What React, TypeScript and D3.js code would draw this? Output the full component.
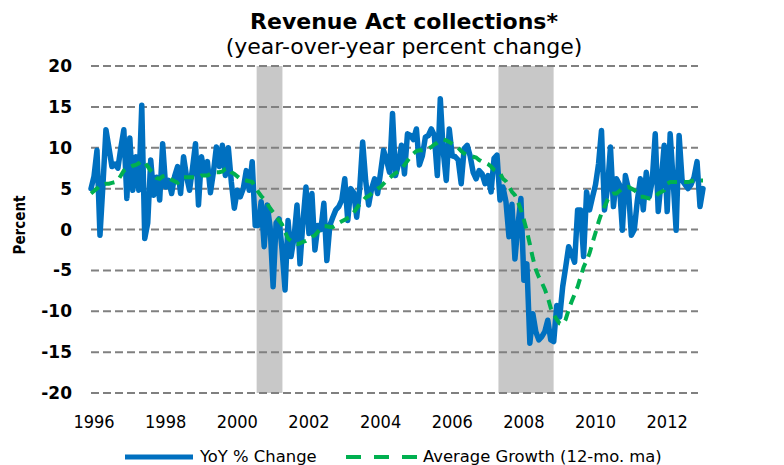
import { useEffect, useRef } from "react";
import * as d3 from "d3";

// monthly values, first month Dec 1995
const startYear = 1995 + 11 / 12;

const yoyChange = [
  5.0, 6.5, 9.7, -0.7, 5.5, 12.2, 10.0, 7.7, 8.0, 7.5, 10.0, 12.2,
  3.8, 11.2, 4.8, 8.9, 4.8, 15.2, -1.1, 0.8, 8.5, 4.2, 6.4, 3.6,
  10.5, 5.2, 6.0, 4.4, 6.5, 7.7, 4.4, 8.9, 6.5, 4.8, 7.5, 10.5,
  3.0, 8.9, 6.8, 8.3, 4.5, 7.0, 10.1, 7.7, 10.3, 6.6, 10.0, 5.8,
  2.6, 4.8, 4.0, 5.0, 7.2, 4.8, 8.3, 0.5, 0.5, 3.4, -2.1, 3.0,
  0.3, -7.0, 0.8, 1.3, -2.5, -7.4, 1.1, -3.3, -1.0, 3.0, -4.2, 1.0,
  5.2, -0.5, 4.4, -2.5, 0.5, 0.0, 3.2, -3.8, 0.5, 1.5, 2.4, 2.8,
  3.6, 6.2, 1.1, 5.0, 4.5, 1.5, 5.0, 10.7, 6.0, 3.0, 5.0, 6.2,
  4.4, 7.0, 9.7, 8.5, 7.0, 14.2, 6.6, 8.0, 10.3, 6.8, 11.7, 11.5,
  11.0, 12.3, 7.9, 9.0, 11.3, 11.5, 12.3, 11.5, 6.6, 16.0, 9.5, 6.0,
  12.3, 9.0, 8.9, 8.5, 5.6, 9.9, 10.3, 9.0, 7.0, 6.2, 7.2, 6.8,
  5.6, 6.6, 4.6, 8.7, 9.1, 3.6, 5.2, 3.4, -0.9, 3.1, -3.6, 0.5,
  3.8, -6.2, -4.2, -13.9, -10.3, -12.5, -13.5, -13.1, -12.5, -11.1, -13.5, -13.7,
  -9.3, -10.7, -7.0, -4.6, -2.1, -3.0, -4.0, 2.4, 2.4, -3.3, 4.6, 2.4,
  4.0, 5.5, 8.0, 12.1, 2.4, 5.0, 10.1, 2.8, 6.2, 5.5, -0.1, 6.6,
  5.0, -0.7, 0.0, 3.5, 6.2, 2.4, 7.0, 4.0, 6.0, 11.7, 2.2, 6.0,
  10.3, 2.2, 11.7, 6.0, -0.1, 11.5, 6.0, 5.5, 5.0, 5.5, 6.4, 8.3,
  2.8, 5.0,
];

const avgGrowth = [
  4.4, 4.7, 5.0, 5.4, 5.5, 5.6, 5.6, 5.7, 5.8, 6.0, 6.6, 7.2,
  7.5, 7.6, 7.8, 7.9, 8.1, 8.4, 8.2, 7.7, 7.2, 6.8, 6.3, 6.2,
  6.5, 6.6, 6.3, 6.1, 5.9, 5.7, 6.0, 6.4, 6.4, 6.4, 6.4, 6.4,
  6.4, 6.6, 6.6, 6.6, 6.8, 7.0, 7.0, 7.0, 7.1, 7.4, 7.5, 7.0,
  6.8, 6.5, 6.2, 6.1, 6.0, 5.9, 5.8, 5.2, 4.6, 4.1, 3.7, 3.2,
  2.6, 2.1, 1.6, 1.1, 0.6, -0.3, -1.1, -1.4, -1.7, -1.8, -1.7, -1.5,
  -1.4, -1.2, -0.9, -0.7, -0.3, 0.1, 0.4, 0.4, 0.3, 0.3, 0.5, 0.8,
  1.0, 1.2, 1.4, 1.6, 2.1, 2.6, 3.1, 3.5, 3.9, 4.1, 4.4, 4.7,
  5.0, 5.2, 5.6, 6.0, 6.3, 6.6, 6.9, 7.1, 7.4, 7.9, 8.4, 8.9,
  9.3, 9.6, 9.7, 9.7, 9.8, 9.9, 10.1, 10.4, 10.6, 10.9, 11.0, 10.9,
  10.7, 10.5, 10.3, 10.0, 9.6, 9.3, 9.1, 9.0, 8.9, 8.8, 8.5, 8.3,
  8.2, 8.0, 7.7, 7.3, 7.1, 6.9, 6.2, 5.9, 5.3, 4.6, 4.2, 3.4,
  2.4, 1.2, -0.2, -1.8, -3.5, -4.9, -5.8, -6.5, -7.3, -8.3, -9.6, -10.4,
  -11.0, -11.5, -11.6, -11.0, -9.8, -8.8, -7.9, -7.0, -5.8, -4.6, -3.8, -2.9,
  -1.6, -0.4, 0.9, 2.0, 2.8, 3.6, 4.2, 4.4, 4.4, 4.7, 5.0, 5.1,
  5.2, 5.0, 4.8, 4.5, 4.0, 4.0, 3.9, 3.8, 3.8, 4.0, 4.4, 4.6,
  4.8, 5.6, 5.8, 5.8, 5.8, 5.8, 5.8, 5.8, 5.8, 5.9, 6.0, 6.0,
  6.0, 6.0,
];

const yearTicks = [1996, 1998, 2000, 2002, 2004, 2006, 2008, 2010, 2012];
const percentTicks = [20, 15, 10, 5, 0, -5, -10, -15, -20];
// shaded periods as they sit on the chart (decimal years)
const recessions = [
  [2000.54, 2001.26],
  [2007.29, 2008.83],
];

const font = "'DejaVu Sans', Verdana, sans-serif";
const narrowFont = "'DejaVu Sans Condensed', 'DejaVu Sans', sans-serif";
const blue = "#0070c0";
const green = "#00b050";

export default function App() {
  const svgRef = useRef(null);

  useEffect(() => {
    const w = 784;
    const h = 465;
    const svg = d3.select(svgRef.current).attr("width", w).attr("height", h);
    svg.selectAll("*").remove();

    const xScale = d3.scaleLinear().domain([1996, 2013]).range([94, 703]);
    const yScale = d3.scaleLinear().domain([-20, 20]).range([393, 66]);
    const gridLeft = 91;
    const gridRight = 698;

    const toYear = (i) => startYear + i / 12;

    // shading
    svg
      .append("g")
      .selectAll("rect")
      .data(recessions)
      .join("rect")
      .attr("x", (d) => xScale(d[0]))
      .attr("width", (d) => xScale(d[1]) - xScale(d[0]))
      .attr("y", yScale(20))
      .attr("height", yScale(-20) - yScale(20))
      .attr("fill", "#c8c8c8");

    // dashed gridlines
    svg
      .append("g")
      .selectAll("line")
      .data(percentTicks)
      .join("line")
      .attr("x1", gridLeft)
      .attr("x2", gridRight)
      .attr("y1", (d) => yScale(d))
      .attr("y2", (d) => yScale(d))
      .attr("stroke", "#808080")
      .attr("stroke-width", 2)
      .attr("stroke-dasharray", "8,4");

    svg
      .append("g")
      .selectAll("text")
      .data(percentTicks)
      .join("text")
      .attr("x", 72)
      .attr("y", (d) => yScale(d))
      .attr("dy", "0.36em")
      .attr("text-anchor", "end")
      .style("font-family", font)
      .style("font-weight", "bold")
      .style("font-size", "17px")
      .text((d) => d);

    svg
      .append("g")
      .selectAll("text")
      .data(yearTicks)
      .join("text")
      .attr("x", (d) => xScale(d))
      .attr("y", 428)
      .attr("text-anchor", "middle")
      .style("font-family", narrowFont)
      .style("font-stretch", "condensed")
      .style("font-size", "18px")
      .text((d) => d);

    const line = d3
      .line()
      .x((d, i) => xScale(toYear(i)))
      .y((d) => yScale(d));

    svg
      .append("path")
      .datum(yoyChange)
      .attr("d", line)
      .attr("fill", "none")
      .attr("stroke", blue)
      .attr("stroke-width", 5.5)
      .attr("stroke-linejoin", "round")
      .attr("stroke-linecap", "round");

    svg
      .append("path")
      .datum(avgGrowth)
      .attr("d", line)
      .attr("fill", "none")
      .attr("stroke", green)
      .attr("stroke-width", 4)
      .attr("stroke-dasharray", "10,7");

    svg
      .append("text")
      .attr("x", 404)
      .attr("y", 29)
      .attr("text-anchor", "middle")
      .style("font-family", font)
      .style("font-weight", "bold")
      .style("font-size", "22px")
      .text("Revenue Act collections*");

    svg
      .append("text")
      .attr("x", 404)
      .attr("y", 54)
      .attr("text-anchor", "middle")
      .style("font-family", font)
      .style("font-size", "22px")
      .text("(year-over-year percent change)");

    svg
      .append("text")
      .attr("transform", "translate(25,225) rotate(-90)")
      .attr("text-anchor", "middle")
      .style("font-family", narrowFont)
      .style("font-stretch", "condensed")
      .style("font-weight", "bold")
      .style("font-size", "15px")
      .text("Percent");

    // legend
    const legend = svg.append("g");
    legend
      .append("line")
      .attr("x1", 125)
      .attr("x2", 193)
      .attr("y1", 457)
      .attr("y2", 457)
      .attr("stroke", blue)
      .attr("stroke-width", 5);
    legend
      .append("text")
      .attr("x", 200)
      .attr("y", 462)
      .style("font-family", font)
      .style("font-size", "16.4px")
      .text("YoY % Change");
    legend
      .append("line")
      .attr("x1", 346)
      .attr("x2", 417)
      .attr("y1", 457)
      .attr("y2", 457)
      .attr("stroke", green)
      .attr("stroke-width", 4)
      .attr("stroke-dasharray", "15,13");
    legend
      .append("text")
      .attr("x", 423)
      .attr("y", 462)
      .style("font-family", font)
      .style("font-size", "16.4px")
      .text("Average Growth (12-mo. ma)");
  }, []);

  return (
    <svg
      ref={svgRef}
      style={{ position: "absolute", left: 0, top: 0, display: "block" }}
    ></svg>
  );
}
